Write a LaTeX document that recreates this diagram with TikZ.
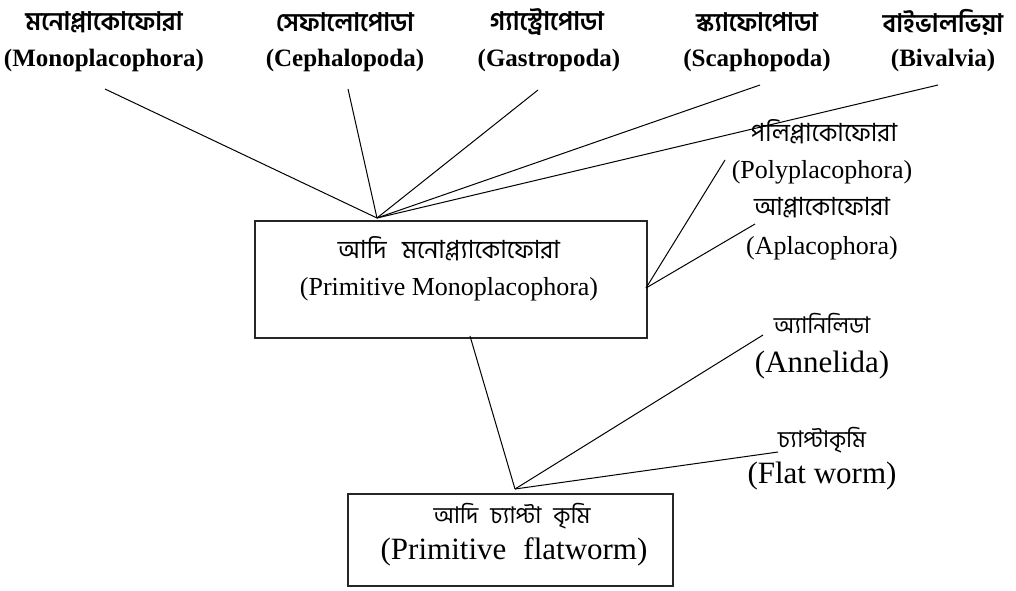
\documentclass[tikz,border=0pt]{standalone}
\usepackage{fontspec}
\setmainfont{Liberation Serif}
\newfontfamily\bn[Script=Bengali]{Hind Siliguri}

\begin{document}
\begin{tikzpicture}[x=1pt,y=-1pt,
  every node/.style={inner sep=0pt},
  topbn/.style={font=\bn\bfseries\fontsize{25.5}{30}\selectfont},
  topen/.style={font=\bfseries\fontsize{25}{30}\selectfont},
  sidebn/.style={font=\bn\fontsize{25}{30}\selectfont},
  smallbn/.style={font=\bn\fontsize{23}{28}\selectfont},
  sideen/.style={font=\fontsize{26}{31}\selectfont},
  bigen/.style={font=\fontsize{31}{36}\selectfont},
  link/.style={line width=1pt},
  frame/.style={draw=black!85, line width=1.3pt}]
\useasboundingbox (0,0) rectangle (1016,590);

% top row: the five living classes
\node[topbn] (bnMono) at (104,22) {মনোপ্লাকোফোরা};
\node[topen] (enMono) at (104,60) {(Monoplacophora)};
\node[topbn] (bnCeph) at (345,22) {সেফালোপোডা};
\node[topen] (enCeph) at (345,60) {(Cephalopoda)};
\node[topbn] (bnGast) at (547,22) {গ্যাস্ট্রোপোডা};
\node[topen] (enGast) at (549,60) {(Gastropoda)};
\node[topbn] (bnScap) at (757,22) {স্ক্যাফোপোডা};
\node[topen] (enScap) at (757,60) {(Scaphopoda)};
\node[topbn] (bnBiva) at (943,22) {বাইভালভিয়া};
\node[topen] (enBiva) at (943,60) {(Bivalvia)};

% side labels
\node[sidebn] (bnPoly) at (824,132) {পলিপ্লাকোফোরা};
\node[sideen] (enPoly) at (822,172) {(Polyplacophora)};
\node[sidebn] (bnApla) at (822,208) {আপ্লাকোফোরা};
\node[sideen] (enApla) at (822,248) {(Aplacophora)};
\node[smallbn] (bnAnne) at (822,323) {অ্যানিলিডা};
\node[bigen]  (enAnne) at (822,365) {(Annelida)};
\node[smallbn] (bnFlat) at (822,440) {চ্যাপ্টাকৃমি};
\node[bigen]  (enFlat) at (822,476) {(Flat worm)};

% ancestral boxes
\node[frame, minimum width=392pt, minimum height=117pt] (boxMono) at (451,279.5) {};
\node[sidebn] (bnBoxMono) at (449,249) {আদি\hspace{0.4em} মনোপ্ল্যাকোফোরা};
\node[sideen] (enBoxMono) at (449,289) {(Primitive Monoplacophora)};

\node[frame, minimum width=325pt, minimum height=92pt] (boxFlat) at (510.5,540) {};
\node[smallbn] (bnBoxFlat) at (512,516) {আদি\hspace{0.3em} চ্যাপ্টা\hspace{0.3em} কৃমি};
\node[bigen]  (enBoxFlat) at (514,552) {(Primitive\hspace{0.3em} flatworm)};

% branch points and free line ends
\coordinate (apexMono) at (377,218);
\coordinate (sideMono) at (646,288);
\coordinate (baseMono) at (470,336);
\coordinate (apexFlat) at (515,489);
\coordinate (endMono) at (105,89);
\coordinate (endCeph) at (348,89);
\coordinate (endGast) at (538,90);
\coordinate (endScap) at (760,85);
\coordinate (endBiva) at (938,85);
\coordinate (endPoly) at (725,160);
\coordinate (endApla) at (755,224);
\coordinate (endAnne) at (763,335);
\coordinate (endFlat) at (778,452);

\draw[link] (apexMono) -- (endMono);
\draw[link] (apexMono) -- (endCeph);
\draw[link] (apexMono) -- (endGast);
\draw[link] (apexMono) -- (endScap);
\draw[link] (apexMono) -- (endBiva);
\draw[link] (sideMono) -- (endPoly);
\draw[link] (sideMono) -- (endApla);
\draw[link] (baseMono) -- (apexFlat);
\draw[link] (apexFlat) -- (endAnne);
\draw[link] (apexFlat) -- (endFlat);
\end{tikzpicture}
\end{document}
